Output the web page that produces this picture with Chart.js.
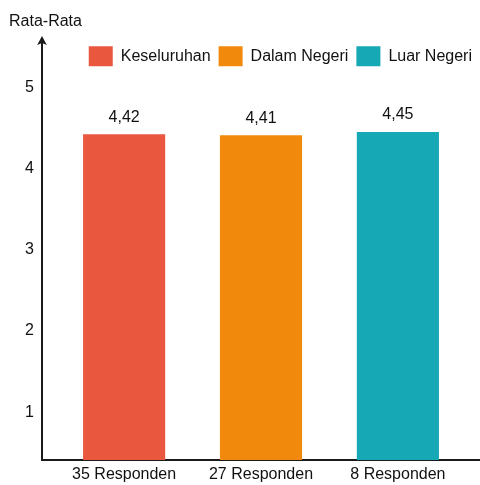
<!DOCTYPE html>
<html>
<head>
<meta charset="utf-8">
<script src="https://cdn.jsdelivr.net/npm/chart.js@4/dist/chart.umd.min.js"></script>
<style>
  html, body { margin: 0; padding: 0; background: #ffffff; }
  #wrap { width: 480px; height: 485px; }
</style>
</head>
<body>
<div id="wrap"><canvas id="chart" width="480" height="485"></canvas></div>
<script>
// Respondent groups along the x axis
const CATEGORIES = ['35 Responden', '27 Responden', '8 Responden'];
// One series per group (shown in the legend)
const SERIES = ['Keseluruhan', 'Dalam Negeri', 'Luar Negeri'];
// Average score of each group
const VALUES = [4.42, 4.41, 4.45];
// Y axis tick labels
const Y_TICKS = [1, 2, 3, 4, 5];
const COLORS = ['#E9573F', '#F18A0C', '#16A8B5'];

const Y_MIN = 0.413;
const Y_MAX = 5.135;
const TEXT = '#111111';
const FONT = "'Liberation Sans', Arial, Helvetica, sans-serif";

const datasets = SERIES.map((name, i) => ({
  label: name,
  data: [{ x: i, y: VALUES[i] }],
  backgroundColor: COLORS[i],
  borderWidth: 0,
  base: Y_MIN
}));

// Value labels above each bar, decimal comma
const valueLabels = {
  id: 'valueLabels',
  afterDatasetsDraw(chart) {
    const ctx = chart.ctx;
    ctx.save();
    ctx.font = '16px ' + FONT;
    ctx.fillStyle = TEXT;
    ctx.textAlign = 'center';
    ctx.textBaseline = 'middle';
    chart.data.datasets.forEach((ds, di) => {
      const meta = chart.getDatasetMeta(di);
      meta.data.forEach((bar, j) => {
        const v = ds.data[j].y;
        ctx.fillText(v.toFixed(2).replace('.', ','), bar.x, bar.y - 17);
      });
    });
    ctx.restore();
  }
};

// Extends the y axis line upward and caps it with an arrow head
const axisArrow = {
  id: 'axisArrow',
  afterDraw(chart) {
    const { ctx, chartArea } = chart;
    const x = chartArea.left;
    const tip = 36;
    ctx.save();
    ctx.strokeStyle = '#1a1a1a';
    ctx.fillStyle = '#1a1a1a';
    ctx.lineWidth = 2;
    ctx.beginPath();
    ctx.moveTo(x, chartArea.top + 1);
    ctx.lineTo(x, tip + 6);
    ctx.stroke();
    ctx.beginPath();
    ctx.moveTo(x, tip);
    ctx.lineTo(x + 4.8, tip + 9);
    ctx.lineTo(x, tip + 7);
    ctx.lineTo(x - 4.8, tip + 9);
    ctx.closePath();
    ctx.fill();
    ctx.restore();
  }
};

new Chart(document.getElementById('chart'), {
  type: 'bar',
  data: { datasets },
  plugins: [valueLabels, axisArrow],
  options: {
    responsive: false,
    animation: false,
    events: [],
    layout: { padding: { left: 9, right: 0, top: 0, bottom: 1 } },
    datasets: {
      bar: { grouped: false, barPercentage: 0.6, categoryPercentage: 1.0 }
    },
    plugins: {
      title: {
        display: true,
        text: 'Rata-Rata',
        align: 'start',
        color: TEXT,
        font: { family: FONT, size: 16, weight: 'normal' },
        padding: { top: 12, bottom: 7 }
      },
      legend: {
        display: true,
        position: 'top',
        align: 'end',
        labels: {
          boxWidth: 24,
          boxHeight: 20,
          padding: 8,
          color: TEXT,
          font: { family: FONT, size: 16 }
        }
      },
      tooltip: { enabled: false }
    },
    scales: {
      x: {
        type: 'linear',
        offset: false,
        min: -0.6,
        max: 2.6,
        grid: { display: false, drawTicks: false },
        border: { display: true, color: '#1a1a1a', width: 2 },
        afterBuildTicks: (scale) => { scale.ticks = CATEGORIES.map((_, i) => ({ value: i })); },
        afterFit: (scale) => { scale.height = 24; },
        ticks: {
          autoSkip: false,
          maxRotation: 0,
          padding: 5,
          color: TEXT,
          font: { family: FONT, size: 16 },
          callback: (value) => CATEGORIES[value]
        }
      },
      y: {
        type: 'linear',
        min: Y_MIN,
        max: Y_MAX,
        grid: { display: false, drawTicks: false },
        border: { display: true, color: '#1a1a1a', width: 2 },
        afterBuildTicks: (scale) => { scale.ticks = Y_TICKS.map(v => ({ value: v })); },
        afterFit: (scale) => { scale.width = 33; },
        ticks: {
          padding: 8,
          color: TEXT,
          font: { family: FONT, size: 16 },
          callback: (value) => String(value)
        }
      }
    }
  }
});
</script>
</body>
</html>
